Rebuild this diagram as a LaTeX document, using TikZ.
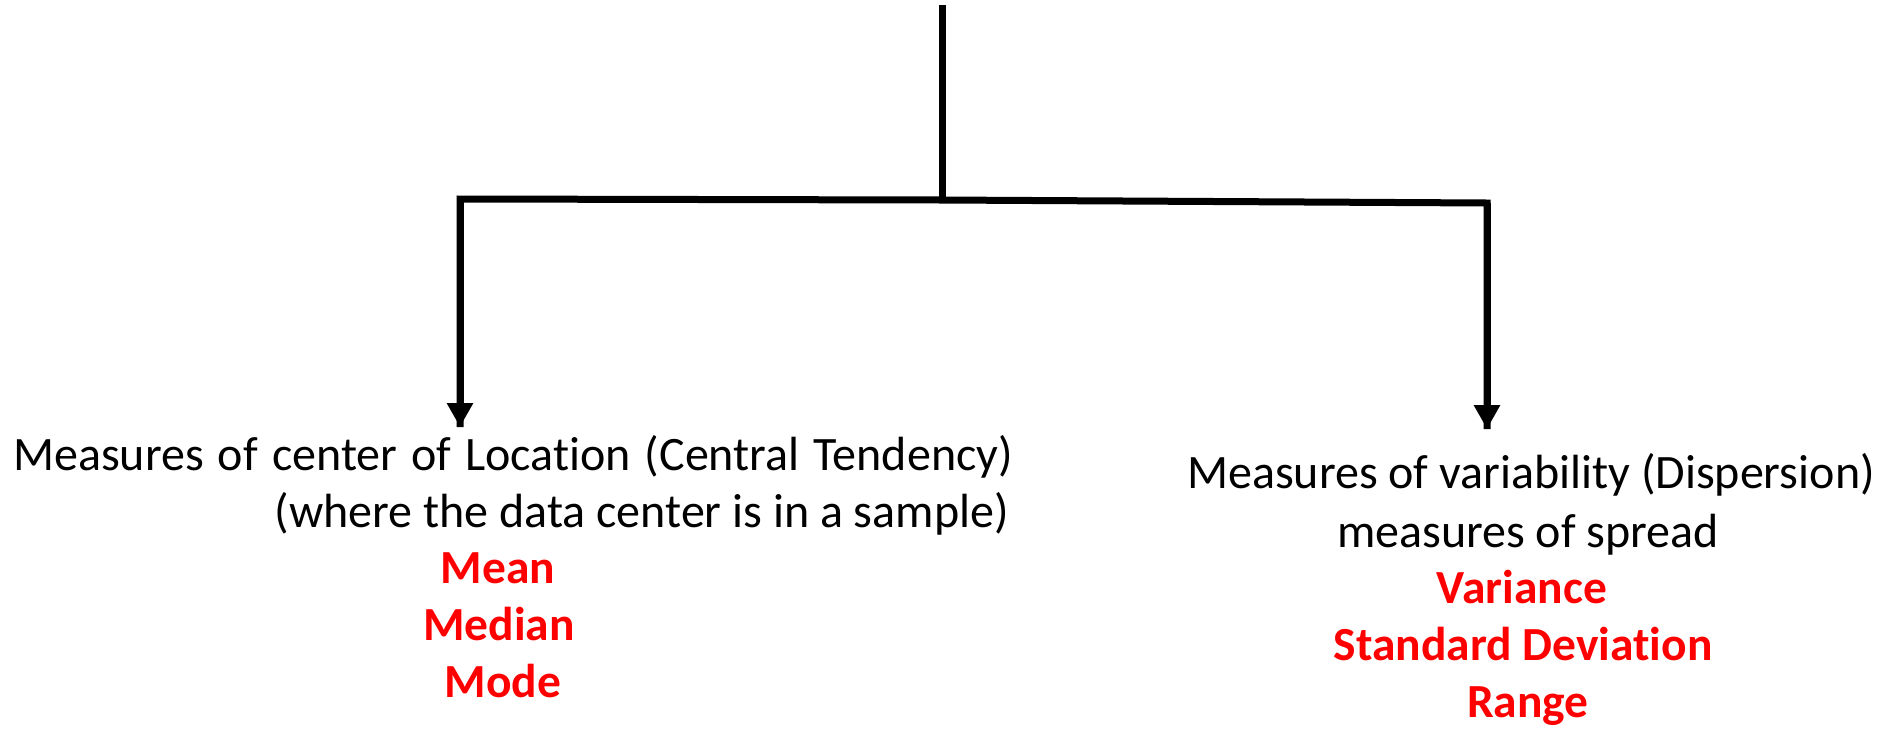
\documentclass[tikz,border=0pt]{standalone}
\usepackage{fontspec}
\setmainfont[Ligatures=NoCommon]{Carlito}
\newfontfamily\widesp[Ligatures=NoCommon,WordSpace=1.3]{Carlito}
\usetikzlibrary{arrows.meta}
\definecolor{itemred}{RGB}{255,0,0}
\tikzset{
  conn/.style={line width=7pt, draw=black},
  arr/.style={line width=7pt, draw=black, -{Triangle[length=24pt,width=25pt]}},
  headtxt/.style={inner sep=0pt, font=\fontsize{48}{57}\selectfont, text=black},
  itemtxt/.style={inner sep=0pt, font=\fontsize{47.5}{57}\selectfont\bfseries, text=itemred, anchor=base}
}
\begin{document}
\begin{tikzpicture}[x=1pt,y=-1pt]
\useasboundingbox (0,0) rectangle (1883,729);
% connector points
\coordinate (top) at (942,5);
\coordinate (junc) at (942,200);
\coordinate (lc) at (460,199);
\coordinate (rc) at (1487,203);
\coordinate (la) at (460,427);
\coordinate (ra) at (1487,429);
% left block
\node[headtxt, anchor=base west] (L1) at (13,470) {\widesp Measures of center of Location (Central Tendency)};
\node[headtxt, anchor=base east] (L2) at (1009,527) {(where the data center is in a sample)};
\node[itemtxt] (mean) at (498,583) {Mean};
\node[itemtxt] (median) at (499,640) {Median};
\node[itemtxt] (mode) at (503,697) {Mode};
% right block
\node[headtxt, anchor=base] (R1) at (1531,488) {Measures of variability (Dispersion)};
\node[headtxt, anchor=base] (R2) at (1528,547) {measures of spread};
\node[itemtxt] (var) at (1522,603) {Variance};
\node[itemtxt] (sd) at (1523,660) {Standard Deviation};
\node[itemtxt] (range) at (1528,717) {Range};
% connectors
\draw[conn, line cap=butt] (top) -- (junc);
\draw[conn, line join=miter] (la) -- (lc) -- (junc) -- (rc) -- (ra);
\draw[arr] (lc) -- (la);
\draw[arr] (rc) -- (ra);
\end{tikzpicture}
\end{document}
